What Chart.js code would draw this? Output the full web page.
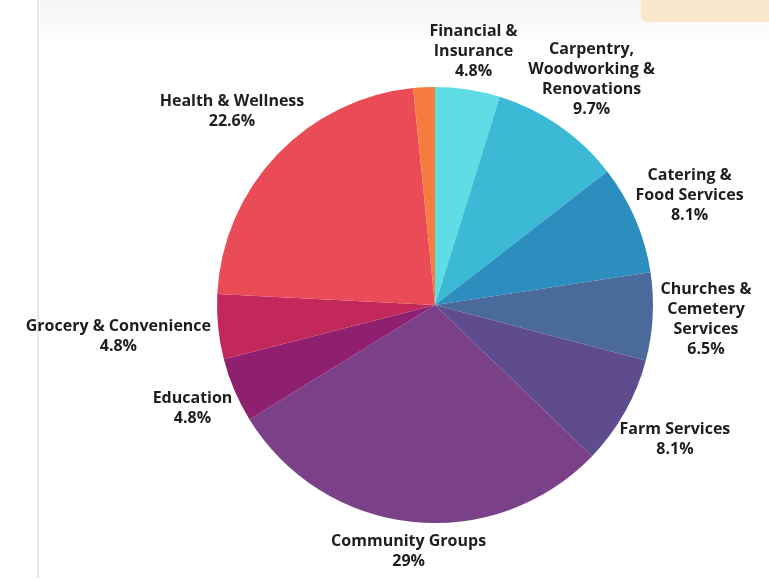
<!DOCTYPE html>
<html>
<head>
<meta charset="utf-8">
<script src="https://cdn.jsdelivr.net/npm/chart.js@4.4.0/dist/chart.umd.min.js"></script>
<style>
  html, body { margin: 0; padding: 0; background: #fff; }
  .wrap { position: relative; width: 769px; height: 582px; overflow: hidden; }
  .topshade { position: absolute; left: 40px; top: 0; width: 729px; height: 45px;
    background: linear-gradient(#f4f4f4, rgba(255,255,255,0)); }
  .tag { position: absolute; left: 641px; top: -6px; width: 140px; height: 28px;
    background: #f8e7cb; border-radius: 6px; }
  .vline { position: absolute; left: 37px; top: 0; width: 2px; height: 578px; background: #e8e8e8; }
  canvas { position: absolute; left: 0; top: 0; }
</style>
</head>
<body>
<div class="wrap">
  <div class="topshade"></div>
  <div class="tag"></div>
  <div class="vline"></div>
  <canvas id="pie" width="769" height="582"></canvas>
</div>
<script>
// sectors, clockwise from 12 o'clock
const labels = [
    ['Financial &', 'Insurance'],
    ['Carpentry,', 'Woodworking &', 'Renovations'],
    ['Catering &', 'Food Services'],
    ['Churches &', 'Cemetery', 'Services'],
    ['Farm Services'],
    ['Community Groups'],
    ['Education'],
    ['Grocery & Convenience'],
    ['Health & Wellness'],
    []
];
const shares = [4.8, 9.7, 8.1, 6.5, 8.1, 29, 4.8, 4.8, 22.6, 1.6];
const shareText = ['4.8%', '9.7%', '8.1%', '6.5%', '8.1%', '29%', '4.8%', '4.8%', '22.6%', ''];
const colors = ['#5fdde5', '#3bb9d5', '#2b8ebf', '#4a6a9c', '#5e4c8f', '#7a4188', '#8f2070', '#c3285d', '#e94b57', '#f57b3e'];

// labels outside the pie, pushed out along the mid angle
const outLabels = {
    id: 'outLabels',
    afterDatasetsDraw(chart) {
        const ctx = chart.ctx;
        const lh = 20;
        ctx.save();
        ctx.font = 'bold 16px "Open Sans", sans-serif';
        ctx.fillStyle = '#1e1e1e';
        ctx.textAlign = 'center';
        ctx.textBaseline = 'middle';
        chart.getDatasetMeta(0).data.forEach((arc, i) => {
            if (!shareText[i]) return;
            const lines = labels[i].concat([shareText[i]]);
            const w = Math.max(...lines.map(t => ctx.measureText(t).width));
            const h = lines.length * lh;
            const mid = (arc.startAngle + arc.endAngle) / 2;
            const dx = Math.cos(mid), dy = Math.sin(mid);
            const ext = Math.sqrt(Math.pow(dx * w / 2, 2) + Math.pow(dy * h / 2, 2));
            const d = arc.outerRadius + 8 + ext;
            const cx = arc.x + dx * d, cy = arc.y + dy * d;
            lines.forEach((t, k) => {
                ctx.fillText(t, cx, cy - h / 2 + lh / 2 + k * lh);
            });
        });
        ctx.restore();
    }
};

const pieChart = new Chart(document.getElementById('pie'), {
    type: 'pie',
    data: {
        labels: labels.map(l => l.join(' ')),
        datasets: [{
            data: shares,
            backgroundColor: colors,
            borderWidth: 0
        }]
    },
    options: {
        responsive: false,
        animation: false,
        layout: {
            padding: { left: 217, right: 116, top: 87, bottom: 59 }
        },
        plugins: {
            legend: { display: false },
            tooltip: { enabled: false }
        }
    },
    plugins: [outLabels]
});
</script>
</body>
</html>
